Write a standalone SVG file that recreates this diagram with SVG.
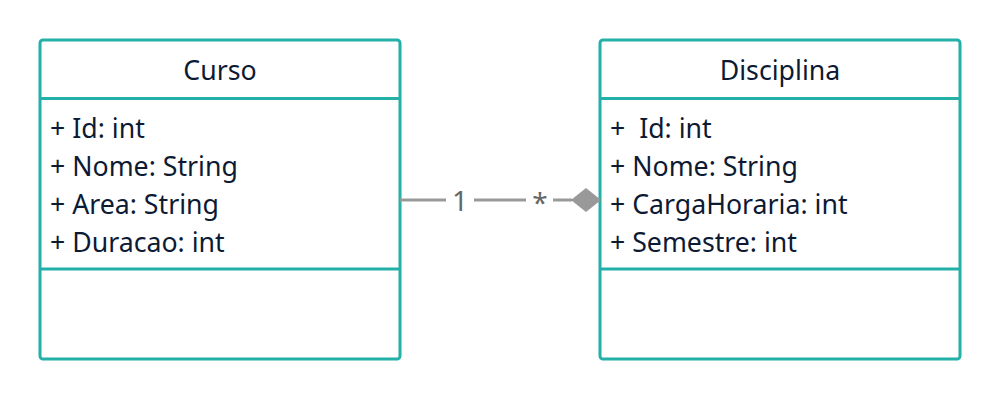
<svg xmlns="http://www.w3.org/2000/svg" width="1000" height="400" viewBox="0 0 1000 400">
<style>
.box{fill:#fff;stroke:#22b0a8;stroke-width:3}
.sep{stroke:#22b0a8;stroke-width:3}
.t{font-family:"Noto Sans","Open Sans",sans-serif;font-size:26.7px;fill:#0d1a33;white-space:pre}
.c{text-anchor:middle}
.conn{stroke:#999;stroke-width:3;fill:none}
.lbl{font-family:"Noto Sans","Open Sans",sans-serif;font-size:28px;fill:#666;text-anchor:middle}
</style>
<rect width="1000" height="400" fill="#fff"/>
<g id="Curso">
<rect class="box" x="40" y="40" width="360" height="319" rx="3"/>
<line class="sep" x1="40" y1="98.5" x2="400" y2="98.5"/>
<line class="sep" x1="40" y1="269" x2="400" y2="269"/>
<text class="t c" x="220" y="80">Curso</text>
<text class="t" x="50" y="138">+ Id: int</text>
<text class="t" x="50" y="176">+ Nome: String</text>
<text class="t" x="50" y="214">+ Area: String</text>
<text class="t" x="50" y="252">+ Duracao: int</text>
</g>
<g id="Disciplina">
<rect class="box" x="600" y="40" width="360" height="319" rx="3"/>
<line class="sep" x1="600" y1="98.5" x2="960" y2="98.5"/>
<line class="sep" x1="600" y1="269" x2="960" y2="269"/>
<text class="t c" x="780" y="80">Disciplina</text>
<text class="t" x="610" y="138" xml:space="preserve">+  Id: int</text>
<text class="t" x="610" y="176">+ Nome: String</text>
<text class="t" x="610" y="214">+ CargaHoraria: int</text>
<text class="t" x="610" y="252">+ Semestre: int</text>
</g>
<g id="connectors">
<line class="conn" x1="400" y1="200" x2="446" y2="200"/>
<line class="conn" x1="474" y1="200" x2="526" y2="200"/>
<line class="conn" x1="553" y1="200" x2="572" y2="200"/>
<polygon points="571,200 586,188 601,200 586,212" fill="#999"/>
<text class="lbl" x="460" y="211">1</text>
<text class="lbl" x="540" y="213">*</text>
</g>
</svg>
